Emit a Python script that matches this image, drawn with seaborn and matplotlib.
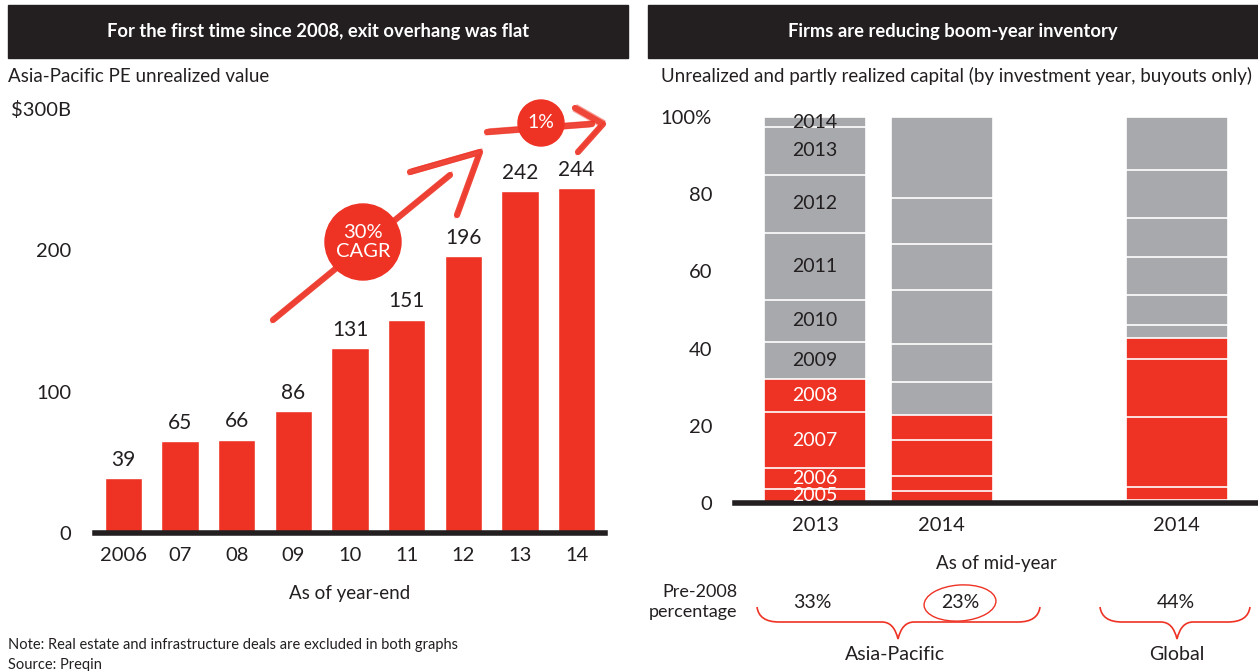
import numpy as np
import pandas as pd
import matplotlib
matplotlib.use("Agg")
from matplotlib import pyplot as plt
from matplotlib.patches import Rectangle, Circle, Ellipse, PathPatch
from matplotlib.path import Path
import seaborn as sns

sns.set_style("white")
plt.rcParams['font.family'] = ['Lato', 'DejaVu Sans']

RED = '#EE3224'
GREY = '#A7A9AC'
INK = '#231F20'

# left panel: Asia-Pacific PE unrealized value ($B)
yearEnd = ["2006", "07", "08", "09", "10", "11", "12", "13", "14"]
unrealizedValue = [39, 65, 66, 86, 131, 151, 196, 242, 244]
leftTicks = [0, 100, 200, 300]
leftTickLabels = ["0", "100", "200", "$300B"]

# right panel: share of unrealized capital by investment year (%)
vintages = [2004, 2005, 2006, 2007, 2008, 2009, 2010, 2011, 2012, 2013, 2014]
apac2013 = [0, 3.7, 5.4, 14.4, 8.6, 9.6, 11.0, 17.2, 15.2, 12.3, 2.6]
apac2014 = [0, 3.0, 3.9, 9.3, 6.7, 8.5, 9.9, 13.9, 11.8, 11.9, 21.1]
global2014 = [0.7, 3.4, 18.3, 15.0, 5.4, 3.3, 7.8, 9.8, 10.2, 12.3, 13.8]
barLabels = ["2013", "2014", "2014"]
pre2008 = ["33%", "23%", "44%"]
rightTicks = [0, 20, 40, 60, 80, 100]
rightTickLabels = ["0", "20", "40", "60", "80", "100%"]

# layout only: horizontal slots of the three stacked bars (gap before Global)
barSlots = [0, 1, 2.85]

fig = plt.figure(figsize=(12.58, 6.71), dpi=100)
W, H = 1258, 671

## left chart
ax1 = fig.add_axes([95 / W, (H - 533) / H, 510 / W, 424 / H])
sns.barplot(x=yearEnd, y=unrealizedValue, color=RED, saturation=1,
            width=0.66, errorbar=None, ax=ax1)
ax1.bar_label(ax1.containers[0], padding=6, fontsize=15, color=INK)
ax1.set_ylim(0, 300)
ax1.set_xlim(-0.5, 8.5)
ax1.set_yticks(leftTicks, leftTickLabels)
ax1.tick_params(axis='y', length=0, pad=17, labelsize=14.5, labelcolor=INK)
ax1.tick_params(axis='x', length=0, pad=10, labelsize=14.5, labelcolor=INK)
ax1.set_xlabel("As of year-end", fontsize=13.5, color=INK, labelpad=15)
ax1.set_ylabel("")
for s in ['left', 'right', 'top']:
    ax1.spines[s].set_visible(False)
ax1.spines['bottom'].set_linewidth(4)
ax1.spines['bottom'].set_color(INK)

## right chart (stacked by drawing cumulative bars from the top down)
shares = pd.DataFrame({'vintage': vintages, 0: apac2013, 1: apac2014, 2: global2014})
cum = shares[[0, 1, 2]].cumsum()

ax2 = fig.add_axes([735 / W, (H - 503) / H, 523 / W, 386 / H])
for k in reversed(range(len(vintages))):
    yr = vintages[k]
    sns.barplot(x=barSlots, y=cum.iloc[k].values, native_scale=True,
                color=RED if yr <= 2008 else GREY, saturation=1, width=0.8,
                edgecolor='white', linewidth=1.2, errorbar=None, ax=ax2)

# vintage labels inside the first bar
for k, yr in enumerate(vintages):
    share = apac2013[k]
    if share <= 0:
        continue
    mid = cum.iloc[k, 0] - share / 2
    ax2.text(barSlots[0], mid, str(yr), ha='center', va='center', fontsize=14,
             color='white' if yr <= 2008 else INK)

ax2.set_xlim(-0.63, 3.49)
ax2.set_ylim(0, 100)
ax2.set_xticks(barSlots, barLabels)
ax2.set_yticks(rightTicks, rightTickLabels)
ax2.tick_params(axis='y', length=0, pad=16.5, labelsize=14.5, labelcolor=INK)
ax2.tick_params(axis='x', length=0, pad=10, labelsize=14.5, labelcolor=INK)
ax2.set_xlabel("As of mid-year", fontsize=13.5, color=INK, labelpad=15)
ax2.set_ylabel("")
for s in ['left', 'right', 'top']:
    ax2.spines[s].set_visible(False)
ax2.spines['bottom'].set_linewidth(4)
ax2.spines['bottom'].set_color(INK)

## decorations in pixel space
deco = fig.add_axes([0, 0, 1, 1])
deco.set_xlim(0, W)
deco.set_ylim(H, 0)
deco.axis('off')
deco.patch.set_visible(False)

# header boxes
deco.add_patch(Rectangle((8, 5), 620, 53, color=INK))
deco.add_patch(Rectangle((648, 5), 610, 53, color=INK))
deco.text(318, 31, "For the first time since 2008, exit overhang was flat",
          ha='center', va='center', color='white', fontsize=13.2, fontweight='bold')
deco.text(953, 31, "Firms are reducing boom-year inventory",
          ha='center', va='center', color='white', fontsize=13.2, fontweight='bold')

deco.text(8, 76, "Asia-Pacific PE unrealized value", ha='left', va='center',
          fontsize=13.5, color=INK)
deco.text(1252, 76, "Unrealized and partly realized capital (by investment year, buyouts only)",
          ha='right', va='center', fontsize=13.5, color=INK)

# growth arrows (brush strokes)
def brush(xs, ys, lw=4.5):
    deco.plot(xs, ys, color=RED, lw=lw, solid_capstyle='round', alpha=0.9)
    deco.plot(np.array(xs) + 2, np.array(ys) - 3, color=RED, lw=1, alpha=0.5)
    deco.plot(np.array(xs) - 2, np.array(ys) + 3, color=RED, lw=0.8, alpha=0.4)

brush([273, 450], [320, 175])
brush([410, 480, 457], [172, 152, 215])
brush([487, 592], [132, 124])
brush([575, 603, 578], [108, 124, 152])
deco.add_patch(Circle((363, 242), 38, color=RED))
deco.text(363, 242, "30%\nCAGR", ha='center', va='center', color='white',
          fontsize=14.5, linespacing=1.2)
deco.add_patch(Circle((541, 123), 23, color=RED))
deco.text(541, 123, "1%", ha='center', va='center', color='white', fontsize=14)

# pre-2008 percentages
deco.text(737, 602, "Pre-2008\npercentage", ha='right', va='center',
          fontsize=13, color=INK, linespacing=1.35)
for xp, txt in zip([812, 960, 1176], pre2008):
    deco.text(xp, 602, txt, ha='center', va='center', fontsize=14, color=INK)
deco.add_patch(Ellipse((960, 603), 72, 36, angle=-4, fill=False, ec=RED, lw=1))

def brace(x0, x1, xt, y0=607, y1=622, yt=639):
    verts = [(x0, y0), (x0 + 2, y1), (x0 + 22, y1), (xt - 16, y1),
             (xt - 4, y1), (xt, yt), (xt + 4, y1), (xt + 16, y1),
             (x1 - 22, y1), (x1 - 2, y1), (x1, y0)]
    codes = [Path.MOVETO, Path.CURVE3, Path.CURVE3, Path.LINETO,
             Path.CURVE3, Path.CURVE3, Path.CURVE3, Path.CURVE3,
             Path.LINETO, Path.CURVE3, Path.CURVE3]
    deco.add_patch(PathPatch(Path(verts, codes), fill=False, ec=RED, lw=1.2))

brace(757, 1040, 898)
brace(1100, 1250, 1177)
deco.text(895, 655, "Asia-Pacific", ha='center', va='center', fontsize=14, color=INK)
deco.text(1177, 655, "Global", ha='center', va='center', fontsize=14, color=INK)

deco.text(8, 645, "Note: Real estate and infrastructure deals are excluded in both graphs",
          ha='left', va='center', fontsize=10.5, color=INK)
deco.text(8, 665, "Source: Preqin", ha='left', va='center', fontsize=10.5, color=INK)

fig.savefig("out.png", dpi=100)
